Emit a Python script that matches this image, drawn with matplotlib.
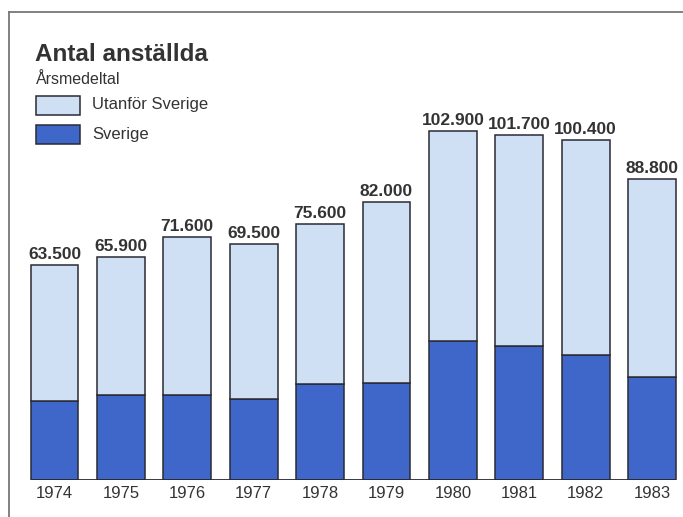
import numpy as np
import matplotlib
matplotlib.use('Agg')
import matplotlib.pyplot as plt
from matplotlib.lines import Line2D
from matplotlib.patches import Rectangle

# Data (thousands of employees, annual average)
years = ['1974', '1975', '1976', '1977', '1978', '1979', '1980', '1981', '1982', '1983']
totals = [63.5, 65.9, 71.6, 69.5, 75.6, 82.0, 102.9, 101.7, 100.4, 88.8]
total_labels = ['63.500', '65.900', '71.600', '69.500', '75.600',
                '82.000', '102.900', '101.700', '100.400', '88.800']
sverige = [23.4, 25.0, 25.0, 23.9, 28.3, 28.5, 41.0, 39.6, 37.0, 30.3]
utanfor = [t - s for t, s in zip(totals, sverige)]

light = '#cfe0f4'
dark = '#3e67c9'
edge = '#2a2a35'
txt = '#333333'

plt.rcParams['font.family'] = ['Liberation Sans', 'DejaVu Sans']

W, H = 683, 517
fig = plt.figure(figsize=(W / 100, H / 100), dpi=100)
fig.patch.set_facecolor('white')

# axes placed in pixel terms: baseline at y=480, top at y=12
left, right, bottom, top = 20, 680, 480, 12
ax = fig.add_axes([left / W, (H - bottom) / H, (right - left) / W, (bottom - top) / H])
ax.set_facecolor('none')

x = np.arange(len(years))
bw = 0.72
px_per_k = 3.39
ax.set_xlim(-(54.5 - left) / 66.4, 9 + (right - 652) / 66.4)
ax.set_ylim(0, (bottom - top) / px_per_k)

ax.bar(x, sverige, width=bw, color=dark, edgecolor=edge, linewidth=1.1, zorder=3)
ax.bar(x, utanfor, width=bw, bottom=sverige, color=light, edgecolor=edge,
       linewidth=1.1, zorder=3)
# baseline only under the bar row
ax.hlines(0, x[0] - bw / 2, x[-1] + bw / 2, color=edge, lw=1.3, zorder=4)

for xi, t, lab in zip(x, totals, total_labels):
    ax.text(xi, t + 0.9, lab, ha='center', va='bottom', fontsize=12.5,
            fontweight='bold', color=txt)

ax.set_xticks(x)
ax.set_xticklabels(years, fontsize=12, color=txt)
ax.tick_params(axis='x', length=0, pad=4)
ax.set_yticks([])
for s in ax.spines.values():
    s.set_visible(False)

# frame of the graphic
fig.add_artist(Line2D([9 / W, 9 / W], [0, 1 - 12 / H], color='#777777', lw=1.3))
fig.add_artist(Line2D([9 / W, 1], [1 - 12 / H, 1 - 12 / H], color='#777777', lw=1.3))

# title, subtitle, legend
fig.text(35 / W, 1 - 61 / H, 'Antal anställda', fontsize=17.5, fontweight='bold',
         color=txt, va='baseline')
fig.text(36 / W, 1 - 84 / H, 'Årsmedeltal', fontsize=11.5, color=txt, va='baseline')
fig.add_artist(Rectangle((36 / W, 1 - 115 / H), 44 / W, 19 / H, facecolor=light,
                         edgecolor=edge, lw=1.1, transform=fig.transFigure))
fig.add_artist(Rectangle((36 / W, 1 - 144 / H), 44 / W, 19 / H, facecolor=dark,
                         edgecolor=edge, lw=1.1, transform=fig.transFigure))
fig.text(92 / W, 1 - 105 / H, 'Utanför Sverige', fontsize=12, color=txt, va='center')
fig.text(92 / W, 1 - 135 / H, 'Sverige', fontsize=12, color=txt, va='center')

fig.savefig('out.png', dpi=100)
